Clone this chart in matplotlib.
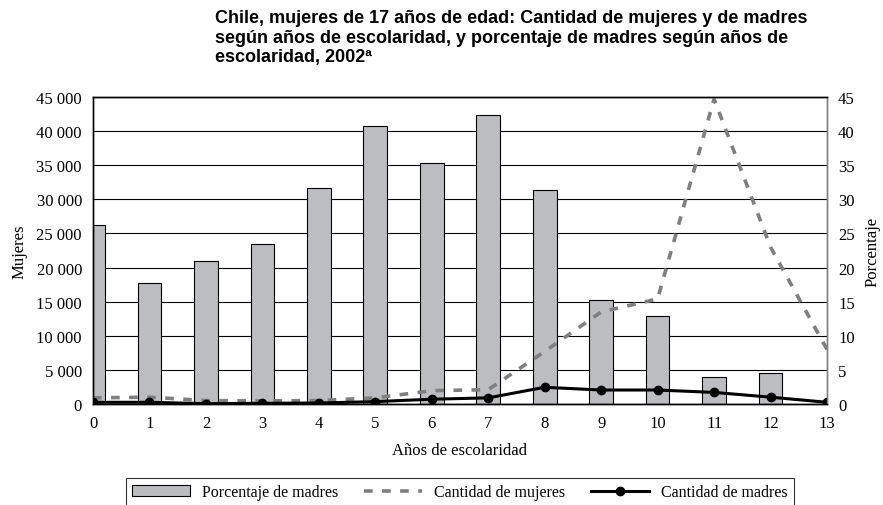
import matplotlib.pyplot as plt
from matplotlib.ticker import FuncFormatter
import numpy as np

anios = list(range(14))
pct_madres = [26.2, 17.8, 20.9, 23.4, 31.7, 40.8, 35.3, 42.3, 31.4, 15.2, 12.9, 4.0, 4.5, 0.0]
cant_mujeres = [900, 1000, 500, 450, 500, 900, 1950, 2100, 7700, 13500, 15400, 44700, 23000, 8000]
cant_madres = [250, 250, 50, 100, 150, 350, 700, 900, 2450, 2050, 2050, 1700, 1000, 250]

titulo = ("Chile, mujeres de 17 años de edad: Cantidad de mujeres y de madres\n"
          "según años de escolaridad, y porcentaje de madres según años de\n"
          "escolaridad, 2002ª")

serif = "Liberation Serif"

fig = plt.figure(figsize=(8.83, 5.06), dpi=100)
ax = fig.add_axes([93 / 883, 1 - 405 / 506, (827 - 93) / 883, (405 - 98) / 506])
ax2 = ax.twinx()

# bars on the right (percent) axis, lines on the left axis drawn above
ax.set_zorder(ax2.get_zorder() + 1)
ax.patch.set_visible(False)

bars = ax2.bar(anios, pct_madres, width=0.42, color="#bcbdc1", edgecolor="black",
               linewidth=0.8, label="Porcentaje de madres", zorder=2)
ax2.set_ylim(0, 45)
ax2.set_yticks(np.arange(0, 46, 5))
ax2.set_axisbelow(True)
ax2.grid(axis="y", color="black", linewidth=0.8)

l1, = ax.plot(anios, cant_mujeres, color="#7f7f7f", linewidth=2.6, dashes=(2.4, 2.6),
              label="Cantidad de mujeres")
l2, = ax.plot(anios, cant_madres, color="black", linewidth=2.2, marker="o",
              markersize=6, label="Cantidad de madres")

ax.set_xlim(0, 13)
ax.set_ylim(0, 45000)
ax.set_yticks(np.arange(0, 45001, 5000))
ax.set_xticks(anios)
ax.yaxis.set_major_formatter(FuncFormatter(lambda v, p: f"{int(v):,}".replace(",", " ")))

for a in (ax, ax2):
    a.tick_params(length=0, labelsize=12, pad=8)
    for lab in a.get_xticklabels() + a.get_yticklabels():
        lab.set_family(serif)
    for s in a.spines.values():
        s.set_linewidth(1.0)
ax2.spines["right"].set_color("#808080")
ax.spines["right"].set_color("#808080")

ax.set_ylabel("Mujeres", family=serif, fontsize=12, labelpad=6)
ax2.set_ylabel("Porcentaje", family=serif, fontsize=12, rotation=90, labelpad=7)
ax.set_xlabel("Años de escolaridad", family=serif, fontsize=12, labelpad=8)

fig.text(215 / 883, 1 - 10 / 506, titulo, ha="left", va="top", family="Liberation Sans",
         fontweight="bold", fontsize=13, linespacing=1.2)

leg = fig.legend([bars, l1, l2], ["Porcentaje de madres", "Cantidad de mujeres", "Cantidad de madres"],
                 loc="upper center", bbox_to_anchor=(460 / 883, 1 - 479 / 506), ncol=3,
                 frameon=True, fancybox=False, edgecolor="black", handlelength=3.6,
                 columnspacing=1.6, prop={"family": serif, "size": 11.5}, borderpad=0.4,
                 borderaxespad=0.0)
leg.get_frame().set_linewidth(0.8)

fig.savefig("out.png", dpi=100)
